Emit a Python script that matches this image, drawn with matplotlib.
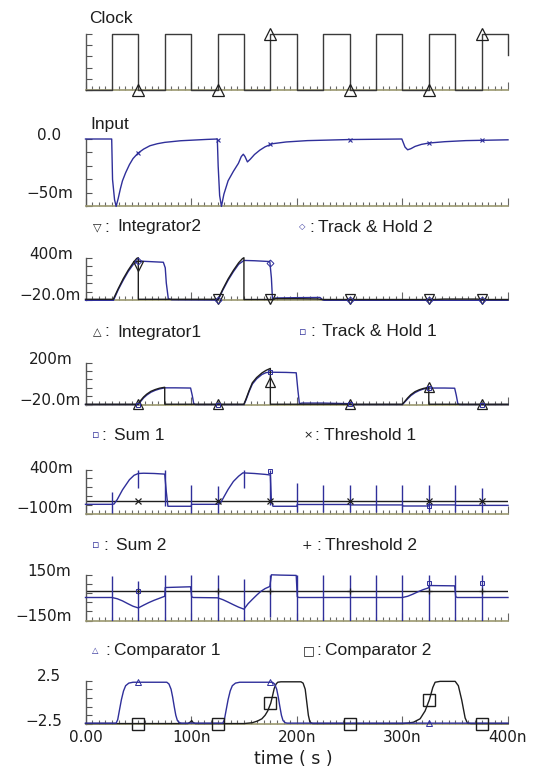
import numpy as np
import matplotlib
matplotlib.use("Agg")
import matplotlib.pyplot as plt
from matplotlib import font_manager
from matplotlib.ticker import MultipleLocator

# ----------------------------
# Data (time in ns, values in the unit of each panel)
# ----------------------------
CLOCK = [(0, 0), (25, 0), (25, 1), (50, 1), (50, 0), (75, 0), (75, 1), (100, 1), (100, 0),
         (125, 0), (125, 1), (150, 1), (150, 0), (175, 0), (175, 1), (200, 1), (200, 0),
         (225, 0), (225, 1), (250, 1), (250, 0), (275, 0), (275, 1), (300, 1), (300, 0),
         (325, 0), (325, 1), (350, 1), (350, 0), (375, 0), (375, 1), (400, 1), (400, 0.63)]
CLOCK_MK = [(50, 0), (125, 0), (175, 1), (250, 0), (325, 0), (375, 1)]

# Input (mV)
INPUT = [(0, 0), (24.8, 0), (25.6, -30), (27.5, -45), (29, -50), (31, -44), (33, -37), (35, -31),
         (38, -25), (41.6, -19), (45, -14.5), (49.7, -10.5), (55, -7.5), (61, -5), (68, -3.5),
         (75, -2.5), (90, -1.3), (100, -0.9), (115, -0.3), (124.8, 0), (125.6, -20), (127, -42),
         (128.7, -50), (131, -41), (135, -31), (140, -24), (144.8, -18), (147.5, -13), (149.4, -11.3),
         (151, -13), (153.3, -17), (156, -15), (160, -11.5), (165, -8.3), (170, -5.8), (177, -3.5),
         (190, -2.2), (210, -1.2), (250, -0.4), (299.5, 0), (300.5, -2), (302.5, -6), (305, -8),
         (308, -7.2), (312, -5.5), (318, -4), (325, -3), (340, -2), (360, -1.2), (400, -0.6)]
INPUT_MK = [(50, -10.5), (125, -1), (175, -4), (250, -0.4), (325, -3), (375, -0.8)]

# Integrator2 / Track & Hold 2 (mV)
INT2 = [(0, -10), (26.3, -10), (31, 95), (35.8, 194), (40.5, 278), (45.3, 353), (48.5, 393),
        (50, 400), (50, -10), (125, -10), (125.5, -10), (130, 90), (135, 190), (140, 275),
        (145, 350), (148.5, 390), (150, 400), (150, -12), (178, -12), (180, -4), (200, -4),
        (220, -7), (224, -12), (330, -12), (340, -8), (370, -8), (375, -10), (380, -12), (400, -12)]
INT2_MK = [(50, 320), (125, -10), (175, -12), (250, -12), (325, -12), (375, -10)]
TH2 = [(0, -20), (26.5, -20), (31, 85), (35.8, 180), (40.5, 265), (45.3, 335), (50, 367),
       (60, 362), (73.7, 355), (75.5, 300), (76.5, 150), (78.4, -5), (82, -15), (125.5, -18),
       (130, 80), (135, 178), (140, 262), (145, 335), (150, 373), (160, 370), (174.5, 362),
       (176, 200), (177, -5), (180, 3), (200, 6), (222, 8), (224.5, -15), (226, -20), (400, -20)]
TH2_MK = [(50, 367), (125, -18), (175, 350), (250, -20), (325, -20), (375, -20)]

# Integrator1 / Track & Hold 1 (mV)
INT1 = [(0, -18), (50, -18), (52, 0), (55, 20), (58, 35), (62, 50), (66, 59), (70, 66), (75, 71),
        (75, -18), (150, -18), (152, 10), (155, 55), (158, 95), (162, 122), (167, 146), (171, 160),
        (175, 170), (175, -18), (300, -18), (302, -5), (305, 15), (308, 32), (312, 48), (316, 58),
        (320, 65), (325, 71), (325, -18), (400, -18)]
INT1_MK = [(50, -18), (125, -18), (175, 100), (250, -18), (325, 71), (375, -18)]
TH1 = [(0, -20), (50, -20), (52, -5), (55, 15), (58, 30), (62, 45), (66, 55), (70, 62), (75, 68),
       (85, 68), (99.5, 67), (101, 30), (102.5, -15), (104, -20), (150, -20), (152, 5), (155, 50),
       (158, 88), (162, 115), (167, 138), (171, 148), (175, 150), (190, 149), (199.5, 147),
       (201, 60), (202.5, -15), (205, -12), (225, -12), (240, -14), (250, -15), (252, -20),
       (300, -20), (302, -8), (305, 10), (308, 27), (312, 43), (316, 54), (320, 62), (325, 67),
       (340, 67), (349.5, 66), (351, 30), (352.5, -15), (354, -20), (400, -20)]
TH1_MK = [(50, -20), (125, -20), (175, 150), (250, -15), (325, 67), (375, -20)]

# Sum 1 / Threshold 1 (mV)
SUM1 = [(0, 7), (25, 7), (27, 10), (30, 60), (35, 170), (41.6, 285), (46, 335), (50, 355),
        (55, 358), (65, 355), (75, 348), (76.5, 150), (78, -15), (100, -15), (100.5, 7), (125, 7),
        (127.5, 15), (131, 90), (135, 175), (140, 265), (145, 325), (149, 362), (160, 355),
        (170, 345), (175, 338), (176, 40), (177.5, -15), (200, -15), (200.5, 5), (250, 5),
        (250.5, 0), (300, 0), (300.5, -12), (325, -12), (325.5, 0), (350, 0), (350.5, -5), (400, -5)]
SUM1_GLITCH_T = [25, 50, 75, 100, 125, 150, 175, 200, 225, 250, 275, 300, 325, 350, 375]
SUM1_GLITCH_HI = [150, 400, 400, 230, 210, 400, 400, 250, 230, 230, 230, 230, 230, 230, 190]
SUM1_GLITCH_LO = [-90, 190, -15, -90, -90, 190, 0, -85, -85, -85, -85, -85, -85, -85, -85]
SUM1_MK = [(175, 385), (325, -12)]
THRESH1 = 47
THRESH1_MK_T = [50, 125, 175, 250, 325, 375]

# Sum 2 / Threshold 2 (mV)
SUM2 = [(0, 0), (25, 0), (30, -8), (35, -22), (40, -40), (45, -57), (50, -68), (55, -50),
        (60, -33), (65, -18), (70, -5), (75, 8), (75.5, 65), (85, 67), (99.5, 70), (100.5, 5),
        (102, 0), (125, -2), (130, -14), (135, -30), (140, -47), (145, -63), (150, -76),
        (154, -40), (158, -12), (162, 15), (166, 40), (170, 58), (174.5, 72), (176, 148),
        (185, 146), (199.5, 144), (200.5, 5), (202, 0), (300, 0), (305, 8), (310, 22), (315, 38),
        (320, 52), (324.5, 62), (325.5, 78), (349.5, 76), (350.5, 5), (352, 0), (400, 0)]
SUM2_GLITCH_T = [25, 50, 75, 100, 125, 150, 175, 200, 225, 250, 275, 300, 325, 350, 375]
SUM2_GLITCH_HI = [140, 105, 150, 150, 150, 118, 150, 150, 150, 150, 150, 150, 150, 150, 150]
SUM2_GLITCH_LO = [-150, -150, -150, -150, -150, -150, -130, -150, -150, -150, -150, -150, -150, -150, -150]
SUM2_MK = [(50, 44), (325, 95), (375, 95)]
THRESH2 = 45
THRESH2_MK_T = [50, 125, 175, 250, 325, 375]

# Comparator 1 / Comparator 2 (V)
COMP1 = [(0, -2.4), (29, -2.4), (30.5, -2.0), (32, -1.0), (34, 0.3), (36, 1.3), (38, 1.9),
         (41, 2.2), (45, 2.3), (77, 2.3), (79, 2.1), (81, 1.5), (82.5, 0.6), (84, -0.5),
         (85.5, -1.5), (87, -2.1), (89, -2.35), (91, -2.4), (130, -2.4), (131.5, -2.0), (133, -1.0),
         (135, 0.3), (137, 1.3), (139, 1.9), (142, 2.2), (146, 2.3), (177, 2.3), (179, 2.1),
         (181, 1.5), (182.5, 0.6), (184, -0.5), (185.5, -1.5), (187, -2.1), (189, -2.35),
         (191, -2.4), (400, -2.4)]
COMP1_MK = [(50, 2.3), (175, 2.3), (325, -2.4)]
COMP2 = [(0, -2.45), (97, -2.45), (99.5, -2.25), (100.5, -2.1), (102, -2.35), (104, -2.45),
         (150, -2.45), (158, -2.35), (163, -2.15), (167, -1.9), (170, -1.5), (172.5, -1.0),
         (175.4, -0.1), (177, 0.7), (178.7, 1.6), (180.5, 2.1), (182, 2.3), (185, 2.35),
         (204, 2.35), (206, 2.2), (208, 1.5), (209.5, 0), (211, -1.5), (212.5, -2.3), (215, -2.45),
         (300, -2.45), (305, -2.4), (310.4, -2.3), (316.8, -1.9), (321.5, -1.0), (325.6, 0.3),
         (328.8, 1.7), (331, 2.3), (335.7, 2.4), (350, 2.4), (353, 1.9), (356.2, 0.25),
         (359.4, -1.8), (361.6, -2.4), (365, -2.45), (400, -2.45)]
COMP2_MK = [(50, -2.45), (125, -2.45), (175, -0.1), (250, -2.45), (325, 0.3), (375, -2.45)]

X_TICKS = [0, 100, 200, 300, 400]
X_TICK_LABELS = ["0.00", "100n", "200n", "300n", "400n"]

# ----------------------------
# Layout (pixels of a 534x767 figure)
# ----------------------------
W, H, DPI = 534, 767, 100
LEFT, RIGHT = 85.5, 508.0
# top px, bottom px, ymin, ymax, top label, bottom label
PANELS = [
    (33.7, 90.3, 0, 1, None, None),
    (139.0, 206.4, -50, 0, "0.0", "\u221250m"),
    (257.7, 300.3, -20, 400, "400m", "\u221220.0m"),
    (362.7, 404.6, -20, 200, "200m", "\u221220.0m"),
    (469.5, 513.8, -100, 400, "400m", "\u2212100m"),
    (574.5, 620.5, -150, 150, "150m", "\u2212150m"),
    (680.5, 724.0, -2.5, 2.5, "2.5", "\u22122.5"),
]
YLAB_TOP = [None, (61, 135.5), (73, 254.3), (73, 359.3), (73, 468.5), (71.5, 571.1), (60.6, 676.1)]
YLAB_BOT = [None, (73, 193.8), (80.7, 295.8), (80.7, 400.8), (73, 508.7), (72, 616.4), (62.3, 721.4)]

BLUE = "#2f2f9a"
BLACK = "#1e1e1e"
CLOCK_C = "#3a3a3a"
SPINE_L = "#555555"
SPINE_B = "#9b9870"

names = {f.name for f in font_manager.fontManager.ttflist}
if "Liberation Sans Narrow" in names:
    LBL_FONT, LBL_SIZE = "Liberation Sans Narrow", 15
else:
    LBL_FONT, LBL_SIZE = "Liberation Sans", 12.5
TICK_FONT = "DejaVu Sans"


def px(x, y):
    return x / W, 1 - y / H


def make_axes(fig, top, bot, lo, hi, xlabels=False):
    ax = fig.add_axes([LEFT / W, 1 - bot / H, (RIGHT - LEFT) / W, (bot - top) / H])
    ax.set_xlim(0, 400)
    ax.set_ylim(lo, hi)
    ax.patch.set_alpha(0)
    for s in ("top", "right"):
        ax.spines[s].set_visible(False)
    ax.spines["left"].set_color(SPINE_L)
    ax.spines["left"].set_linewidth(1.0)
    ax.spines["bottom"].set_color(SPINE_B)
    ax.spines["bottom"].set_linewidth(1.2)
    ax.set_yticks(np.linspace(lo, hi, 6))
    ax.tick_params(axis="y", direction="in", length=4, width=0.8, color=SPINE_L, labelleft=False)
    ax.set_xticks(X_TICKS)
    ax.xaxis.set_minor_locator(MultipleLocator(6.25))
    ax.tick_params(axis="x", which="major", direction="in", length=6, width=0.8, color="#666666",
                   labelbottom=xlabels, pad=4)
    ax.tick_params(axis="x", which="minor", direction="in", length=3, width=0.8, color="#666666")
    return ax


def trace(ax, pts, color, lw=1.0, z=3):
    t, v = np.array(pts).T
    ax.plot(t, v, color=color, lw=lw, clip_on=False, zorder=z)


def marks(ax, pts, marker, color, ms, mew=0.9, z=4):
    t, v = np.array(pts).T
    ax.plot(t, v, ls="none", marker=marker, mfc="none", mec=color, ms=ms, mew=mew,
            clip_on=False, zorder=z)


def legend_row(fig, y, left, right):
    for (sx, cx, lx, sym, scol, ssize, label) in (left, right):
        fig.text(*px(sx, y), sym, color=scol, fontsize=ssize, family="DejaVu Sans",
                 ha="center", va="center")
        fig.text(*px(cx, y), ":", color=BLACK, fontsize=LBL_SIZE, family=LBL_FONT,
                 ha="center", va="center")
        fig.text(*px(lx, y), label, color=BLACK, fontsize=LBL_SIZE, family=LBL_FONT,
                 ha="left", va="center")


fig = plt.figure(figsize=(W / DPI, H / DPI), dpi=DPI)
fig.patch.set_facecolor("white")

axes = []
for i, (top, bot, lo, hi, ltop, lbot) in enumerate(PANELS):
    ax = make_axes(fig, top, bot, lo, hi, xlabels=(i == len(PANELS) - 1))
    axes.append(ax)
    if ltop:
        fig.text(*px(*YLAB_TOP[i]), ltop, ha="right", va="center", fontsize=11, family=TICK_FONT,
                 color=BLACK)
        fig.text(*px(*YLAB_BOT[i]), lbot, ha="right", va="center", fontsize=11, family=TICK_FONT,
                 color=BLACK)

ax_clk, ax_in, ax_i2, ax_i1, ax_s1, ax_s2, ax_cmp = axes

# Clock
trace(ax_clk, CLOCK, CLOCK_C)
marks(ax_clk, CLOCK_MK, "^", BLACK, 8)
fig.text(*px(89, 18.7), "Clock", fontsize=LBL_SIZE, family=LBL_FONT, va="center", color=BLACK)

# Input
trace(ax_in, INPUT, BLUE)
marks(ax_in, INPUT_MK, "x", BLUE, 3.5, 0.8)
fig.text(*px(90, 124.5), "Input", fontsize=LBL_SIZE, family=LBL_FONT, va="center", color=BLACK)

# Integrator2 / Track & Hold 2
trace(ax_i2, TH2, BLUE, z=3)
trace(ax_i2, INT2, BLACK, z=3.5)
marks(ax_i2, INT2_MK, "v", BLACK, 7)
marks(ax_i2, TH2_MK, "D", BLUE, 3.5, 0.7)
legend_row(fig, 227,
           (97, 107, 117.5, "\u25bd", BLACK, 8, "Integrator2"),
           (302.5, 311.6, 318.5, "\u25c7", BLUE, 6, "Track & Hold 2"))

# Integrator1 / Track & Hold 1
trace(ax_i1, TH1, BLUE, z=3)
trace(ax_i1, INT1, BLACK, z=3.5)
marks(ax_i1, INT1_MK, "^", BLACK, 7)
marks(ax_i1, TH1_MK, "s", BLUE, 3.5, 0.7)
legend_row(fig, 332,
           (97, 107, 117.5, "\u25b3", BLACK, 8, "Integrator1"),
           (303, 312.7, 321.9, "\u25ab", BLUE, 8, "Track & Hold 1"))

# Sum 1 / Threshold 1
ax_s1.axhline(THRESH1, color=BLACK, lw=1.0, zorder=2)
ax_s1.plot(THRESH1_MK_T, [THRESH1] * len(THRESH1_MK_T), ls="none", marker="x", color=BLACK,
           ms=4, mew=0.9, zorder=4)
trace(ax_s1, SUM1, BLUE)
ax_s1.vlines(SUM1_GLITCH_T, SUM1_GLITCH_LO, SUM1_GLITCH_HI, color=BLUE, lw=1.0, zorder=3)
marks(ax_s1, SUM1_MK, "s", BLUE, 3, 0.7)
legend_row(fig, 435.4,
           (96, 104, 114, "\u25ab", BLUE, 8, "Sum 1"),
           (308, 316.8, 323.6, "\u00d7", BLACK, 8, "Threshold 1"))

# Sum 2 / Threshold 2
ax_s2.axhline(THRESH2, color=BLACK, lw=1.0, zorder=2)
ax_s2.plot(THRESH2_MK_T, [THRESH2] * len(THRESH2_MK_T), ls="none", marker="+", color=BLACK,
           ms=5, mew=0.9, zorder=4)
trace(ax_s2, SUM2, BLUE)
ax_s2.vlines(SUM2_GLITCH_T, SUM2_GLITCH_LO, SUM2_GLITCH_HI, color=BLUE, lw=1.0, zorder=3)
marks(ax_s2, SUM2_MK, "s", BLUE, 3.5, 0.7)
legend_row(fig, 545.5,
           (96, 105.6, 115.8, "\u25ab", BLUE, 8, "Sum 2"),
           (307, 318.5, 325.3, "+", BLACK, 9, "Threshold 2"))

# Comparators
trace(ax_cmp, COMP1, BLUE, z=3.5)
trace(ax_cmp, COMP2, BLACK, z=3)
marks(ax_cmp, COMP1_MK, "^", BLUE, 4, 0.7)
marks(ax_cmp, COMP2_MK, "s", BLACK, 8, 1.0)
legend_row(fig, 650.5,
           (95, 108, 114, "\u25b3", BLUE, 6, "Comparator 1"),
           (309, 318.5, 325.3, "\u25a1", BLACK, 9, "Comparator 2"))

ax_cmp.set_xticklabels(X_TICK_LABELS, fontsize=11, family=TICK_FONT, color=BLACK)
fig.text(*px(293, 759.5), "time ( s )", ha="center", va="center", fontsize=12.5,
         family=TICK_FONT, color=BLACK)

fig.savefig("out.png", dpi=DPI, facecolor="white")
